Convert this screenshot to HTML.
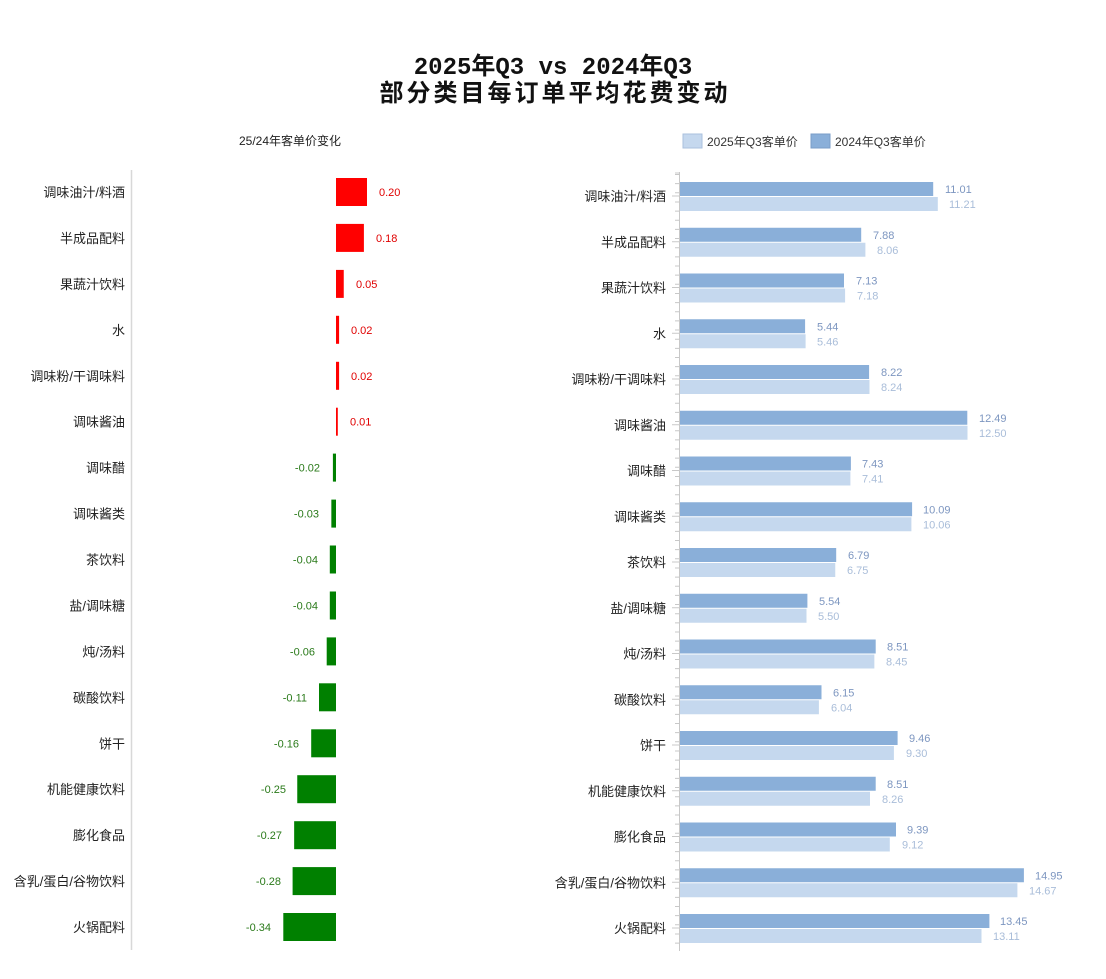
<!DOCTYPE html>
<html><head><meta charset="utf-8"><style>
html,body{margin:0;padding:0;background:#fff}
svg{display:block;font-family:"Liberation Sans","Noto Sans CJK SC",sans-serif}
.t{font-family:"Liberation Mono","Noto Sans CJK SC",monospace;font-weight:bold;font-size:24px;fill:#111}
.lb{font-size:13px;fill:#222;text-anchor:end}
.pv{font-size:11px;fill:#e00000}
.nv{font-size:11px;fill:#2a7a1a;text-anchor:end}
.dv{font-size:11px;fill:#7d96c0}
.lv{font-size:11px;fill:#a9bdd9}
.d{fill:#8aafd9}
.l{fill:#c5d8ee}
.r{fill:#ff0000}
.g{fill:#008000}
</style></head><body>
<svg width="1106" height="979" viewBox="0 0 1106 979">
<text class="t" x="553" y="74" text-anchor="middle">2025年Q3 vs 2024年Q3</text>
<text class="t" x="555" y="101" text-anchor="middle" letter-spacing="3">部分类目每订单平均花费变动</text>
<text x="290" y="145" font-size="12" fill="#222" text-anchor="middle">25/24年客单价变化</text>
<rect x="683" y="134" width="19" height="14" fill="#c5d8ee" stroke="#aac0de"/>
<text x="707" y="146" font-size="12" fill="#333">2025年Q3客单价</text>
<rect x="811" y="134" width="19" height="14" fill="#8aafd9" stroke="#7a9cc8"/>
<text x="835" y="146" font-size="12" fill="#333">2024年Q3客单价</text>
<line x1="131.5" y1="170" x2="131.5" y2="950" stroke="#d8d8d8" stroke-width="1.5"/>
<line x1="679.5" y1="172" x2="679.5" y2="951" stroke="#c8c8c8" stroke-width="1"/>
<line x1="675" y1="173" x2="679" y2="173" stroke="#c8c8c8"/>
<line x1="677" y1="174" x2="677" y2="950" stroke="#c8c8c8" stroke-width="4" stroke-dasharray="1 8.15"/>

<g transform="translate(0,192)"><text class="lb" x="125" y="5">调味油汁/料酒</text><rect class="r" x="336" y="-14" width="31" height="28"/><text class="pv" x="379" y="4">0.20</text></g>
<g transform="translate(0,237.9)"><text class="lb" x="125" y="5">半成品配料</text><rect class="r" x="336" y="-14" width="27.9" height="28"/><text class="pv" x="376" y="4">0.18</text></g>
<g transform="translate(0,283.9)"><text class="lb" x="125" y="5">果蔬汁饮料</text><rect class="r" x="336" y="-14" width="7.75" height="28"/><text class="pv" x="356" y="4">0.05</text></g>
<g transform="translate(0,329.8)"><text class="lb" x="125" y="5">水</text><rect class="r" x="336" y="-14" width="3.1" height="28"/><text class="pv" x="351" y="4">0.02</text></g>
<g transform="translate(0,375.8)"><text class="lb" x="125" y="5">调味粉/干调味料</text><rect class="r" x="336" y="-14" width="3.1" height="28"/><text class="pv" x="351" y="4">0.02</text></g>
<g transform="translate(0,421.7)"><text class="lb" x="125" y="5">调味酱油</text><rect class="r" x="336" y="-14" width="1.8" height="28"/><text class="pv" x="350" y="4">0.01</text></g>
<g transform="translate(0,467.6)"><text class="lb" x="125" y="5">调味醋</text><rect class="g" x="332.9" y="-14" width="3.1" height="28"/><text class="nv" x="320" y="4">-0.02</text></g>
<g transform="translate(0,513.6)"><text class="lb" x="125" y="5">调味酱类</text><rect class="g" x="331.35" y="-14" width="4.65" height="28"/><text class="nv" x="319" y="4">-0.03</text></g>
<g transform="translate(0,559.5)"><text class="lb" x="125" y="5">茶饮料</text><rect class="g" x="329.8" y="-14" width="6.2" height="28"/><text class="nv" x="318" y="4">-0.04</text></g>
<g transform="translate(0,605.5)"><text class="lb" x="125" y="5">盐/调味糖</text><rect class="g" x="329.8" y="-14" width="6.2" height="28"/><text class="nv" x="318" y="4">-0.04</text></g>
<g transform="translate(0,651.4)"><text class="lb" x="125" y="5">炖/汤料</text><rect class="g" x="326.7" y="-14" width="9.3" height="28"/><text class="nv" x="315" y="4">-0.06</text></g>
<g transform="translate(0,697.3)"><text class="lb" x="125" y="5">碳酸饮料</text><rect class="g" x="319" y="-14" width="17" height="28"/><text class="nv" x="307" y="4">-0.11</text></g>
<g transform="translate(0,743.3)"><text class="lb" x="125" y="5">饼干</text><rect class="g" x="311.2" y="-14" width="24.8" height="28"/><text class="nv" x="299" y="4">-0.16</text></g>
<g transform="translate(0,789.2)"><text class="lb" x="125" y="5">机能健康饮料</text><rect class="g" x="297.25" y="-14" width="38.75" height="28"/><text class="nv" x="286" y="4">-0.25</text></g>
<g transform="translate(0,835.2)"><text class="lb" x="125" y="5">膨化食品</text><rect class="g" x="294.15" y="-14" width="41.85" height="28"/><text class="nv" x="282" y="4">-0.27</text></g>
<g transform="translate(0,881.1)"><text class="lb" x="125" y="5">含乳/蛋白/谷物饮料</text><rect class="g" x="292.6" y="-14" width="43.4" height="28"/><text class="nv" x="281" y="4">-0.28</text></g>
<g transform="translate(0,927)"><text class="lb" x="125" y="5">火锅配料</text><rect class="g" x="283.3" y="-14" width="52.7" height="28"/><text class="nv" x="271" y="4">-0.34</text></g>

<g transform="translate(679,196)"><line x1="-7" y1="0" x2="0" y2="0" stroke="#c8c8c8"/><text class="lb" x="-13" y="5">调味油汁/料酒</text><rect class="d" x="1" y="-14" width="253.2" height="14"/><rect class="l" x="1" y="1" width="257.8" height="14"/><text class="dv" x="266" y="-3">11.01</text><text class="lv" x="270" y="12">11.21</text></g>
<g transform="translate(679,241.75)"><line x1="-7" y1="0" x2="0" y2="0" stroke="#c8c8c8"/><text class="lb" x="-13" y="5">半成品配料</text><rect class="d" x="1" y="-14" width="181.2" height="14"/><rect class="l" x="1" y="1" width="185.4" height="14"/><text class="dv" x="194" y="-3">7.88</text><text class="lv" x="198" y="12">8.06</text></g>
<g transform="translate(679,287.5)"><line x1="-7" y1="0" x2="0" y2="0" stroke="#c8c8c8"/><text class="lb" x="-13" y="5">果蔬汁饮料</text><rect class="d" x="1" y="-14" width="164" height="14"/><rect class="l" x="1" y="1" width="165.1" height="14"/><text class="dv" x="177" y="-3">7.13</text><text class="lv" x="178" y="12">7.18</text></g>
<g transform="translate(679,333.25)"><line x1="-7" y1="0" x2="0" y2="0" stroke="#c8c8c8"/><text class="lb" x="-13" y="5">水</text><rect class="d" x="1" y="-14" width="125.1" height="14"/><rect class="l" x="1" y="1" width="125.6" height="14"/><text class="dv" x="138" y="-3">5.44</text><text class="lv" x="138" y="12">5.46</text></g>
<g transform="translate(679,379)"><line x1="-7" y1="0" x2="0" y2="0" stroke="#c8c8c8"/><text class="lb" x="-13" y="5">调味粉/干调味料</text><rect class="d" x="1" y="-14" width="189.1" height="14"/><rect class="l" x="1" y="1" width="189.5" height="14"/><text class="dv" x="202" y="-3">8.22</text><text class="lv" x="202" y="12">8.24</text></g>
<g transform="translate(679,424.75)"><line x1="-7" y1="0" x2="0" y2="0" stroke="#c8c8c8"/><text class="lb" x="-13" y="5">调味酱油</text><rect class="d" x="1" y="-14" width="287.3" height="14"/><rect class="l" x="1" y="1" width="287.5" height="14"/><text class="dv" x="300" y="-3">12.49</text><text class="lv" x="300" y="12">12.50</text></g>
<g transform="translate(679,470.5)"><line x1="-7" y1="0" x2="0" y2="0" stroke="#c8c8c8"/><text class="lb" x="-13" y="5">调味醋</text><rect class="d" x="1" y="-14" width="170.9" height="14"/><rect class="l" x="1" y="1" width="170.4" height="14"/><text class="dv" x="183" y="-3">7.43</text><text class="lv" x="183" y="12">7.41</text></g>
<g transform="translate(679,516.25)"><line x1="-7" y1="0" x2="0" y2="0" stroke="#c8c8c8"/><text class="lb" x="-13" y="5">调味酱类</text><rect class="d" x="1" y="-14" width="232.1" height="14"/><rect class="l" x="1" y="1" width="231.4" height="14"/><text class="dv" x="244" y="-3">10.09</text><text class="lv" x="244" y="12">10.06</text></g>
<g transform="translate(679,562)"><line x1="-7" y1="0" x2="0" y2="0" stroke="#c8c8c8"/><text class="lb" x="-13" y="5">茶饮料</text><rect class="d" x="1" y="-14" width="156.2" height="14"/><rect class="l" x="1" y="1" width="155.25" height="14"/><text class="dv" x="169" y="-3">6.79</text><text class="lv" x="168" y="12">6.75</text></g>
<g transform="translate(679,607.75)"><line x1="-7" y1="0" x2="0" y2="0" stroke="#c8c8c8"/><text class="lb" x="-13" y="5">盐/调味糖</text><rect class="d" x="1" y="-14" width="127.4" height="14"/><rect class="l" x="1" y="1" width="126.5" height="14"/><text class="dv" x="140" y="-3">5.54</text><text class="lv" x="139" y="12">5.50</text></g>
<g transform="translate(679,653.5)"><line x1="-7" y1="0" x2="0" y2="0" stroke="#c8c8c8"/><text class="lb" x="-13" y="5">炖/汤料</text><rect class="d" x="1" y="-14" width="195.7" height="14"/><rect class="l" x="1" y="1" width="194.35" height="14"/><text class="dv" x="208" y="-3">8.51</text><text class="lv" x="207" y="12">8.45</text></g>
<g transform="translate(679,699.25)"><line x1="-7" y1="0" x2="0" y2="0" stroke="#c8c8c8"/><text class="lb" x="-13" y="5">碳酸饮料</text><rect class="d" x="1" y="-14" width="141.5" height="14"/><rect class="l" x="1" y="1" width="138.9" height="14"/><text class="dv" x="154" y="-3">6.15</text><text class="lv" x="152" y="12">6.04</text></g>
<g transform="translate(679,745)"><line x1="-7" y1="0" x2="0" y2="0" stroke="#c8c8c8"/><text class="lb" x="-13" y="5">饼干</text><rect class="d" x="1" y="-14" width="217.6" height="14"/><rect class="l" x="1" y="1" width="213.9" height="14"/><text class="dv" x="230" y="-3">9.46</text><text class="lv" x="227" y="12">9.30</text></g>
<g transform="translate(679,790.75)"><line x1="-7" y1="0" x2="0" y2="0" stroke="#c8c8c8"/><text class="lb" x="-13" y="5">机能健康饮料</text><rect class="d" x="1" y="-14" width="195.7" height="14"/><rect class="l" x="1" y="1" width="190" height="14"/><text class="dv" x="208" y="-3">8.51</text><text class="lv" x="203" y="12">8.26</text></g>
<g transform="translate(679,836.5)"><line x1="-7" y1="0" x2="0" y2="0" stroke="#c8c8c8"/><text class="lb" x="-13" y="5">膨化食品</text><rect class="d" x="1" y="-14" width="216" height="14"/><rect class="l" x="1" y="1" width="209.8" height="14"/><text class="dv" x="228" y="-3">9.39</text><text class="lv" x="223" y="12">9.12</text></g>
<g transform="translate(679,882.25)"><line x1="-7" y1="0" x2="0" y2="0" stroke="#c8c8c8"/><text class="lb" x="-13" y="5">含乳/蛋白/谷物饮料</text><rect class="d" x="1" y="-14" width="343.9" height="14"/><rect class="l" x="1" y="1" width="337.4" height="14"/><text class="dv" x="356" y="-3">14.95</text><text class="lv" x="350" y="12">14.67</text></g>
<g transform="translate(679,928)"><line x1="-7" y1="0" x2="0" y2="0" stroke="#c8c8c8"/><text class="lb" x="-13" y="5">火锅配料</text><rect class="d" x="1" y="-14" width="309.4" height="14"/><rect class="l" x="1" y="1" width="301.5" height="14"/><text class="dv" x="321" y="-3">13.45</text><text class="lv" x="314" y="12">13.11</text></g>
</svg>
</body></html>
